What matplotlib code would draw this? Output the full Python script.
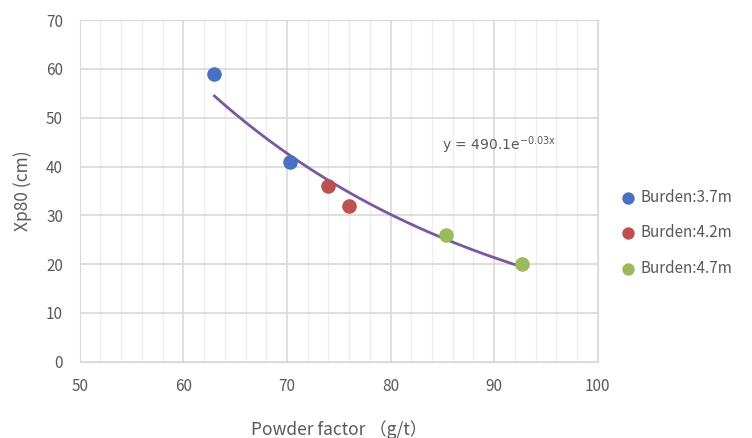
import numpy as np
import matplotlib
matplotlib.use("Agg")
import matplotlib.pyplot as plt

plt.rcParams['font.family'] = ['Noto Sans CJK SC', 'DejaVu Sans']

series_names = ["Burden:3.7m", "Burden:4.2m", "Burden:4.7m"]
series_x = [[63.0, 70.3], [74.0, 76.0], [85.3, 92.7]]
series_y = [[59.0, 41.0], [36.0, 32.0], [26.0, 20.0]]
colors = ["#4472C4", "#C0504D", "#9BBB59"]
trend_color = "#7A57A6"
equation = r"y = 490.1e$^{\mathrm{-0.03x}}$"

text_color = "#595959"
grid_color = "#D9D9D9"

fig = plt.figure(figsize=(7.52, 4.38), dpi=100)
ax = fig.add_axes([0.106, 0.174, 0.689, 0.780])

ax.set_xlim(50, 100)
ax.set_ylim(0, 70)
ax.set_xticks(np.arange(50, 101, 10))
ax.set_xticks(np.arange(50, 101, 2), minor=True)
ax.set_yticks(np.arange(0, 71, 10))
ax.grid(which='major', axis='both', color=grid_color, linewidth=1.2)
ax.grid(which='minor', axis='x', color="#EDEDED", linewidth=0.9)
ax.set_axisbelow(True)
for s in ax.spines.values():
    s.set_color(grid_color)
ax.tick_params(which='both', length=0, colors=text_color, labelsize=11, pad=12)

# trendline fitted from the data
all_x = np.concatenate([np.array(v) for v in series_x])
all_y = np.concatenate([np.array(v) for v in series_y])
b, lna = np.polyfit(all_x, np.log(all_y), 1)
tx = np.linspace(all_x.min(), all_x.max(), 200)
ax.plot(tx, np.exp(lna) * np.exp(b * tx), color=trend_color, linewidth=2, zorder=2)

handles = []
for name, xs, ys, c in zip(series_names, series_x, series_y, colors):
    h = ax.scatter(xs, ys, s=110, color=c, label=name, zorder=3, linewidths=0)
    handles.append(h)

ax.text(85.0, 44.4, equation, color=text_color, fontsize=10, va='center',
        family=['DejaVu Sans'])

ax.set_xlabel("Powder factor （g/t）", color=text_color, fontsize=12.5, labelpad=18)
ax.set_ylabel("Xp80 (cm)", color=text_color, fontsize=12.5, labelpad=10)

leg = fig.legend(handles=handles, labels=series_names, loc='upper left',
                 bbox_to_anchor=(0.797, 0.60), frameon=False, fontsize=11,
                 handletextpad=-0.2, labelspacing=1.2, markerscale=0.85,
                 labelcolor=text_color)

fig.savefig("out.png", dpi=100)
